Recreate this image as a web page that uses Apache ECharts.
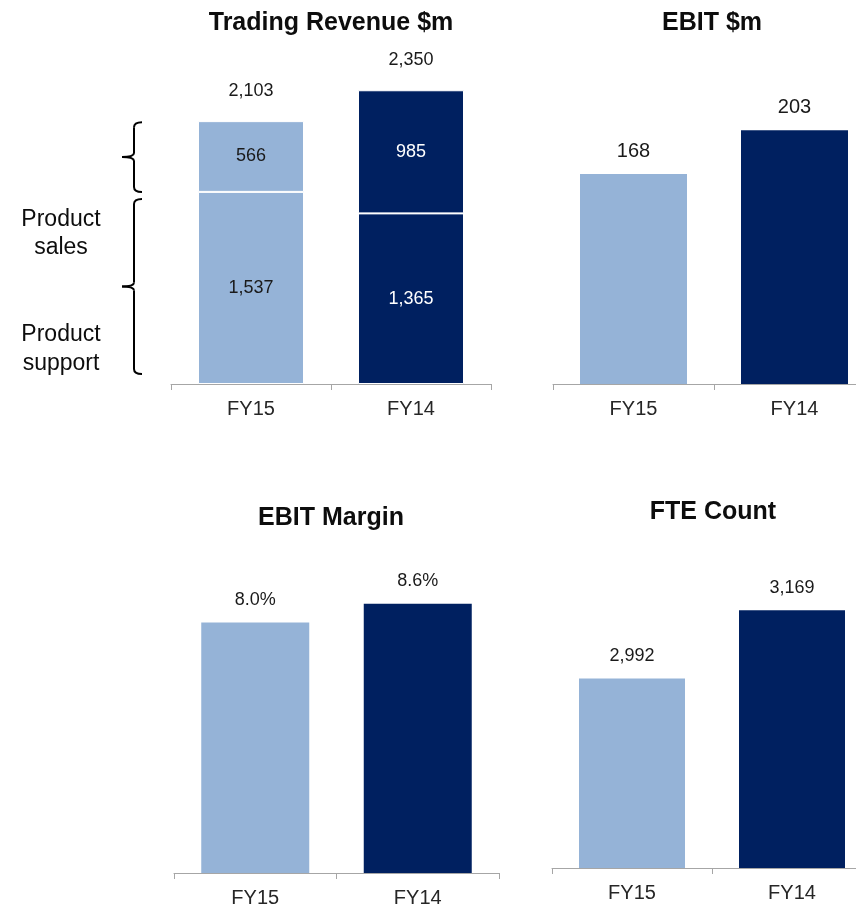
<!DOCTYPE html>
<html>
<head>
<meta charset="utf-8">
<script src="https://cdn.jsdelivr.net/npm/echarts@6/dist/echarts.min.js"></script>
<style>
    html, body { margin: 0; padding: 0; background: #fff; }
    #chart { width: 856px; height: 906px; }
</style>
</head>
<body>
<div id="chart"></div>
<script>
    // data
    var categories = ['FY15', 'FY14'];
    var supportRevenue = [1537, 1365];   // lower segment
    var salesRevenue = [566, 985];       // upper segment
    var totalRevenue = [2103, 2350];
    var ebit = [168, 203];
    var ebitMargin = [8.0, 8.6];
    var fteCount = [2992, 3169];

    var barColors = ['#95b3d7', '#002060'];
    var innerLabelColors = ['#1a1a1a', '#ffffff'];
    var regular = "'Liberation Sans', Arial, sans-serif";
    var narrow = "'Liberation Sans Narrow', 'Arial Narrow', 'Liberation Sans', sans-serif";
    var narrowSize = 18;

    var chart = echarts.init(document.getElementById('chart'));

    function colorByIndex(p) { return barColors[p.dataIndex]; }
    function thousands(v) { return Number(v).toLocaleString('en-US'); }

    function xAxisFor(i) {
        return {
            gridIndex: i,
            type: 'category',
            data: categories,
            axisLine: { lineStyle: { color: '#a6a6a6', width: 1 } },
            axisTick: { show: true, length: 6, interval: 0, lineStyle: { color: '#a6a6a6' } },
            axisLabel: { fontSize: 20, color: '#262626', margin: 15, fontFamily: regular }
        };
    }
    function yAxisFor(i, min, max) {
        return { gridIndex: i, type: 'value', min: min, max: max, show: false, splitLine: { show: false } };
    }
    function innerData(vals) {
        return vals.map(function (v, i) {
            return { value: v, label: { color: innerLabelColors[i] } };
        });
    }

    var titles = [
        ['Trading Revenue $m', 331, 23],
        ['EBIT $m', 712, 23],
        ['EBIT Margin', 331, 518],
        ['FTE Count', 713, 512]
    ];

    var option = {
        animation: false,
        grid: [
            { left: 171, top: 34, width: 320, height: 350, outerBoundsMode: 'none' },
            { left: 553, top: 84, width: 322, height: 300, outerBoundsMode: 'none' },
            { left: 174, top: 560, width: 325, height: 313, outerBoundsMode: 'none' },
            { left: 552, top: 579, width: 320, height: 289, outerBoundsMode: 'none' }
        ],
        xAxis: [xAxisFor(0), xAxisFor(1), xAxisFor(2), xAxisFor(3)],
        yAxis: [
            yAxisFor(0, 0, 2800),
            yAxisFor(1, 0, 240),
            yAxisFor(2, 0, 10),
            yAxisFor(3, 2500, 3250)
        ],
        series: [
            {
                name: 'Product support', type: 'bar', stack: 'rev', barWidth: 106,
                xAxisIndex: 0, yAxisIndex: 0,
                data: innerData(supportRevenue),
                itemStyle: { color: colorByIndex, borderColor: '#fff', borderWidth: 1 },
                label: { show: true, position: 'inside', fontSize: narrowSize, fontFamily: narrow, formatter: function (p) { return thousands(p.value); } }
            },
            {
                name: 'Product sales', type: 'bar', stack: 'rev', barWidth: 106,
                xAxisIndex: 0, yAxisIndex: 0,
                data: innerData(salesRevenue),
                itemStyle: { color: colorByIndex, borderColor: '#fff', borderWidth: 1 },
                label: { show: true, position: 'inside', fontSize: narrowSize, fontFamily: narrow, formatter: function (p) { return thousands(p.value); } }
            },
            {
                name: 'Total', type: 'bar', barWidth: 106, barGap: '-100%', silent: true,
                xAxisIndex: 0, yAxisIndex: 0, z: 1,
                data: totalRevenue,
                itemStyle: { color: 'rgba(0,0,0,0)' },
                label: { show: true, position: 'top', distance: 21, fontSize: narrowSize, color: '#1a1a1a', fontFamily: narrow, formatter: function (p) { return thousands(p.value); } }
            },
            {
                name: 'EBIT', type: 'bar', barWidth: 107,
                xAxisIndex: 1, yAxisIndex: 1,
                data: ebit,
                itemStyle: { color: colorByIndex },
                label: { show: true, position: 'top', distance: 13, fontSize: 20, color: '#1a1a1a', fontFamily: regular }
            },
            {
                name: 'EBIT Margin', type: 'bar', barWidth: 108,
                xAxisIndex: 2, yAxisIndex: 2,
                data: ebitMargin,
                itemStyle: { color: colorByIndex },
                label: { show: true, position: 'top', distance: 14, fontSize: narrowSize, color: '#1a1a1a', fontFamily: narrow, formatter: function (p) { return p.value.toFixed(1) + '%'; } }
            },
            {
                name: 'FTE Count', type: 'bar', barWidth: 106,
                xAxisIndex: 3, yAxisIndex: 3,
                data: fteCount,
                itemStyle: { color: colorByIndex },
                label: { show: true, position: 'top', distance: 13, fontSize: narrowSize, color: '#1a1a1a', fontFamily: narrow, formatter: function (p) { return thousands(p.value); } }
            }
        ]
    };
    chart.setOption(option);

    // curly brackets next to the FY15 revenue stack, placed from the data
    function py(v) { return chart.convertToPixel({ gridIndex: 0 }, [0, v])[1]; }
    var braceStyle = { fill: 'none', stroke: '#000', lineWidth: 2 };
    function brace(top, bottom) {
        var x = 134, hook = 142, tip = 122, mid = (top + bottom) / 2, r = 5;
        return [
            { type: 'bezierCurve', shape: { x1: hook, y1: top, cpx1: x, cpy1: top, x2: x, y2: top + r }, style: braceStyle },
            { type: 'line', shape: { x1: x, y1: top + r, x2: x, y2: mid - 4 }, style: braceStyle },
            { type: 'bezierCurve', shape: { x1: x, y1: mid - 4, cpx1: x, cpy1: mid, x2: tip, y2: mid }, style: braceStyle },
            { type: 'bezierCurve', shape: { x1: tip, y1: mid, cpx1: x, cpy1: mid, x2: x, y2: mid + 4 }, style: braceStyle },
            { type: 'line', shape: { x1: x, y1: mid + 4, x2: x, y2: bottom - r }, style: braceStyle },
            { type: 'bezierCurve', shape: { x1: x, y1: bottom - r, cpx1: x, cpy1: bottom, x2: hook, y2: bottom }, style: braceStyle }
        ];
    }
    var upperTop = py(totalRevenue[0]) + 1, upperBottom = py(supportRevenue[0]);
    var lowerTop = py(supportRevenue[0]) + 7, lowerBottom = py(0) - 10;

    var graphics = titles.map(function (t) {
        return {
            type: 'text', x: t[1], y: t[2],
            style: { text: t[0], font: 'bold 25px ' + regular, fill: '#0d0d0d', textAlign: 'center', textVerticalAlign: 'middle' }
        };
    });
    graphics = graphics.concat(brace(upperTop, upperBottom), brace(lowerTop, lowerBottom));
    var sideLabels = [['Product', 220], ['sales', 248], ['Product', 335], ['support', 364]];
    sideLabels.forEach(function (s) {
        graphics.push({
            type: 'text', x: 61, y: s[1],
            style: { text: s[0], font: '23px ' + regular, fill: '#0d0d0d', textAlign: 'center', textVerticalAlign: 'middle' }
        });
    });
    chart.setOption({ graphic: graphics });
</script>
</body>
</html>
